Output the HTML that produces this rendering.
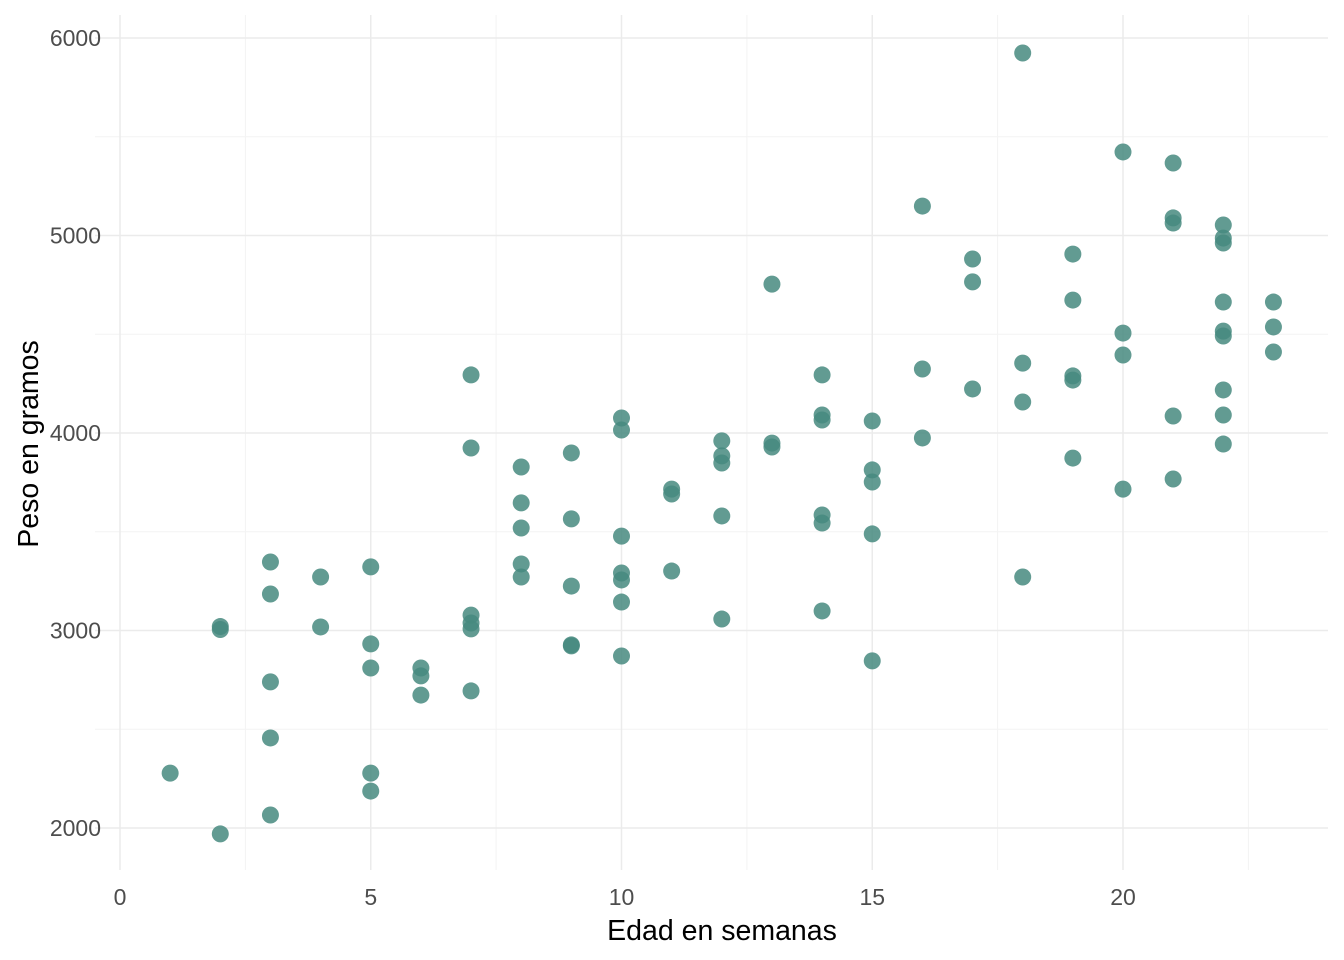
<!DOCTYPE html>
<html><head><meta charset="utf-8"><style>
html,body{margin:0;padding:0;background:#fff}
svg{display:block;font-family:"Liberation Sans",sans-serif}
</style></head><body>
<svg id="chart" width="1344" height="960" xmlns="http://www.w3.org/2000/svg">
<g id="grid"></g>
<g id="points"></g>
<g id="ticks"></g>
<text x="722" y="940" text-anchor="middle" font-size="28.5" fill="#000">Edad en semanas</text>
<text transform="translate(38,444) rotate(-90)" text-anchor="middle" font-size="28.5" fill="#000">Peso en gramos</text>
</svg>
<script>
const ages = [1,2,2,2,3,3,3,3,3,4,4,5,5,5,5,5,6,6,6,7,7,7,7,7,7,8,8,8,8,8,9,9,9,9,9,10,10,10,10,10,10,10,11,11,11,12,12,12,12,12,13,13,13,14,14,14,14,14,14,15,15,15,15,15,16,16,16,17,17,17,18,18,18,18,19,19,19,19,19,20,20,20,20,21,21,21,21,21,22,22,22,22,22,22,22,22,22,23,23,23];
const weights = [2278,3020,3005,1970,3347,3185,2740,2456,2066,3271,3018,3322,2932,2810,2278,2187,2810,2770,2673,4294,3924,3078,3038,3008,2694,3828,3646,3519,3337,3271,3899,3565,3225,2927,2922,4076,4015,3478,3291,3256,3144,2871,3716,3691,3301,3960,3884,3848,3580,3058,4754,3949,3929,4294,4091,4066,3585,3544,3099,4061,3813,3752,3489,2846,5149,4324,3975,4881,4765,4223,5924,4354,4157,3271,4906,4673,4289,4268,3873,5423,4506,4395,3716,5367,5089,5063,4086,3767,5053,4987,4962,4663,4516,4491,4218,4091,3944,4663,4537,4410];
const xTicks = [0,5,10,15,20];
const yTicks = [2000,3000,4000,5000,6000];
const xMinor = [2.5,7.5,12.5,17.5,22.5];
const yMinor = [2500,3500,4500,5500];
const L=95,R=1328,T=15,B=870;
const xs = v => 120 + v*50.15;
const ys = v => 38 + (6000-v)*0.1975;
const NS="http://www.w3.org/2000/svg";
function mk(tag,attrs,parent){const e=document.createElementNS(NS,tag);for(const k in attrs)e.setAttribute(k,attrs[k]);parent.appendChild(e);return e;}
const g=document.getElementById('grid'),p=document.getElementById('points'),t=document.getElementById('ticks');
xMinor.forEach(v=>{const e=mk('line',{x1:xs(v),x2:xs(v),y1:T,y2:B,stroke:'#f3f3f3','stroke-width':1},g);

});
yMinor.forEach(v=>{const e=mk('line',{x1:L,x2:R,y1:ys(v),y2:ys(v),stroke:'#f3f3f3','stroke-width':1},g);

});
xTicks.forEach(v=>{const e=mk('line',{x1:xs(v),x2:xs(v),y1:T,y2:B,stroke:'#ebebeb','stroke-width':1.5},g);


const l=mk('text',{x:xs(v),y:905,'text-anchor':'middle','font-size':23,fill:'#4d4d4d'},t);l.textContent=v;

});
yTicks.forEach(v=>{const e=mk('line',{x1:L,x2:R,y1:ys(v),y2:ys(v),stroke:'#ebebeb','stroke-width':1.5},g);


const l=mk('text',{x:101,y:ys(v)+8,'text-anchor':'end','font-size':23,fill:'#4d4d4d'},t);l.textContent=v;

});
ages.forEach((a,i)=>{const c=mk('circle',{cx:xs(a),cy:ys(weights[i]),r:8.5,fill:'#468a7f','fill-opacity':0.85},p);

});
</script>
</body></html>
